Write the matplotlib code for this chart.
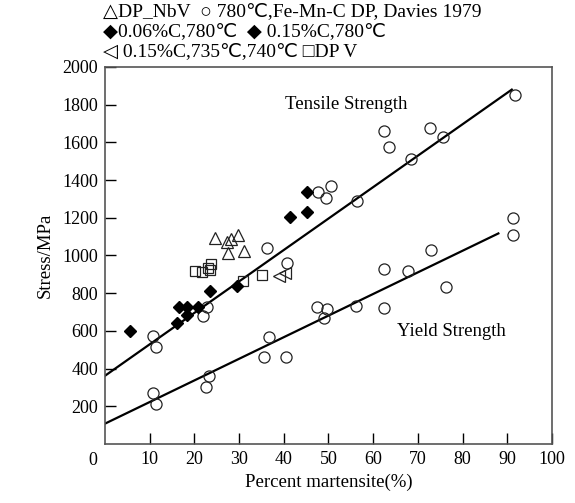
import matplotlib

matplotlib.use("Agg")
from matplotlib import pyplot as plt

# data
ts_circle_x = [10.7, 11.5, 21.9, 22.8, 36.3, 40.7, 47.7, 49.4, 50.5, 56.4,
               62.4, 63.5, 68.5, 72.7, 75.6, 91.7]
ts_circle_y = [572, 515, 678, 726, 1039, 959, 1335, 1303, 1367, 1288,
               1659, 1574, 1510, 1675, 1627, 1850]

ys_circle_x = [10.7, 11.4, 22.6, 23.3, 35.6, 36.8, 40.5, 47.4, 49.0, 49.7,
               56.2, 62.4, 62.4, 67.8, 72.9, 76.3, 91.3, 91.3]
ys_circle_y = [270, 212, 302, 360, 461, 570, 463, 726, 668, 715,
               731, 927, 720, 917, 1028, 832, 1198, 1107]

diamond_x = [5.6, 16.1, 16.6, 18.3, 18.3, 20.8, 23.5, 29.5, 41.4, 45.2, 45.2]
diamond_y = [599, 643, 726, 726, 684, 726, 811, 837, 1203, 1230, 1335]

tri_up_x = [24.6, 27.3, 28.2, 29.8, 27.5, 31.2]
tri_up_y = [1092, 1070, 1090, 1108, 1015, 1025]

tri_left_x = [38.9, 40.2]
tri_left_y = [893, 906]

square_x = [20.2, 21.8, 23.0, 23.8, 23.6, 30.8, 35.2]
square_y = [918, 912, 935, 955, 925, 864, 896]

ts_line_x = [0, 91]
ts_line_y = [362, 1880]
ys_line_x = [0, 88]
ys_line_y = [108, 1117]

legend_lines = [
    "\u25b3DP_NbV  \u25cb 780\u2103,Fe-Mn-C DP, Davies 1979",
    "\u25c60.06%C,780\u2103  \u25c6 0.15%C,780\u2103",
    "\u25c1 0.15%C,735\u2103,740\u2103 \u25a1DP V",
]

plt.rcParams["font.family"] = ["Liberation Serif", "DejaVu Sans"]

fig = plt.figure(figsize=(5.75, 5.03), dpi=100)
ax = fig.add_axes([0.1826, 0.1173, 0.7774, 0.7495])

ax.plot(ts_line_x, ts_line_y, color="black", linewidth=1.6)
ax.plot(ys_line_x, ys_line_y, color="black", linewidth=1.6)

mk = dict(linestyle="none", markersize=8, markeredgewidth=0.9,
          markeredgecolor="#222222")
ax.plot(ts_circle_x, ts_circle_y, marker="o", markerfacecolor="none", **mk)
ax.plot(ys_circle_x, ys_circle_y, marker="o", markerfacecolor="none", **mk)
ax.plot(tri_up_x, tri_up_y, marker="^", markerfacecolor="none", **mk)
ax.plot(tri_left_x, tri_left_y, marker="<", markerfacecolor="none", **mk)
ax.plot(square_x, square_y, marker="s", markerfacecolor="none",
        linestyle="none", markersize=7, markeredgewidth=0.9,
        markeredgecolor="#222222")
ax.plot(diamond_x, diamond_y, marker="D", color="black", linestyle="none",
        markersize=6.5)

ax.set_xlim(0, 100)
ax.set_ylim(0, 2000)
ax.set_xticks(range(10, 101, 10))
ax.set_yticks(range(200, 2001, 200))
ax.tick_params(direction="in", length=8, width=1, labelsize=13,
               top=False, right=False, pad=5)
for s in ax.spines.values():
    s.set_color("#555555")
    s.set_linewidth(1.2)

ax.text(-2.8, -40, "0", fontsize=13, ha="center", va="top")

ax.text(53.9, 1802, "Tensile Strength", fontsize=13.5, ha="center", va="center")
ax.text(77.6, 599, "Yield Strength", fontsize=13.5, ha="center", va="center")

ax.set_xlabel("Percent martensite(%)", fontsize=13.5, labelpad=4)
ax.set_ylabel("Stress/MPa", fontsize=13.5, labelpad=6)

for i, line in enumerate(legend_lines):
    fig.text(103 / 575, 1 - (12 + 20 * i) / 503, line, fontsize=14,
             ha="left", va="center")

fig.savefig("out.png", dpi=100)
